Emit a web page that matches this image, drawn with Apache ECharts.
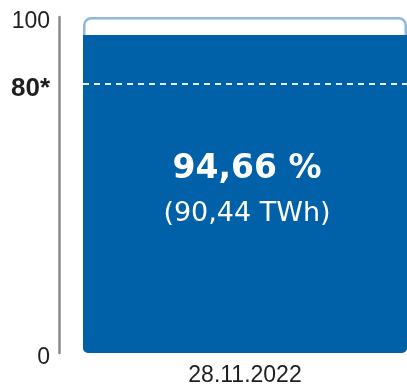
<!DOCTYPE html>
<html>
<head>
<meta charset="utf-8">
<script src="https://cdn.jsdelivr.net/npm/echarts@6/dist/echarts.min.js"></script>
<style>
  html, body { margin: 0; padding: 0; background: #ffffff; }
  #chart { width: 407px; height: 389px; }
</style>
</head>
<body>
<div id="chart"></div>
<script>
// Gas storage fill level on a single reporting day
const categories = ['28.11.2022'];
const fillPercent = [94.66];   // filling level in percent
const storedTWh = [90.44];     // stored energy in TWh
const capacity = [100];        // full storage = 100 %
const targetLevel = 80;        // statutory target level
const axisMin = 0;
const axisMax = 100;
const labelledTicks = [0, 80, 100];

const fmt = v => v.toFixed(2).replace('.', ',');

const chart = echarts.init(document.getElementById('chart'), null, { renderer: 'canvas' });

chart.setOption({
  animation: false,
  backgroundColor: '#ffffff',
  grid: { left: 83, right: 0, top: 17, bottom: 36, containLabel: false },
  xAxis: {
    type: 'category',
    data: categories,
    axisLine: { show: false },
    axisTick: { show: false },
    axisLabel: {
      fontFamily: 'Liberation Sans',
      fontSize: 23,
      color: '#1e1e1e',
      margin: 11
    }
  },
  yAxis: {
    type: 'value',
    min: axisMin,
    max: axisMax,
    interval: 20,
    offset: 24,
    axisLine: { show: true, lineStyle: { color: '#8a8a8a', width: 2.5 } },
    axisTick: { show: false },
    splitLine: { show: false },
    axisLabel: {
      margin: 9,
      padding: [10, 0, 0, 0],
      fontFamily: 'Liberation Sans',
      fontSize: 23,
      color: '#1e1e1e',
      formatter: v => {
        if (!labelledTicks.includes(v)) return '';
        return v === targetLevel ? '{b|' + v + '*}' : String(v);
      },
      rich: {
        b: { fontFamily: 'Liberation Sans', fontSize: 26, fontWeight: 'bold', color: '#1e1e1e' }
      }
    }
  },
  series: [
    {
      // storage capacity outline
      type: 'bar',
      data: capacity,
      barWidth: '100%',
      barGap: '-100%',
      silent: true,
      itemStyle: {
        color: '#ffffff',
        borderColor: '#8cb7df',
        borderWidth: 2.5,
        borderRadius: [7, 7, 5, 5]
      }
    },
    {
      // current filling level
      type: 'bar',
      data: fillPercent,
      barWidth: '100%',
      barGap: '-100%',
      silent: true,
      itemStyle: {
        color: '#0061a8',
        borderRadius: [0, 0, 5, 5]
      },
      label: {
        show: true,
        position: 'inside',
        offset: [2, -2],
        formatter: p => '{a|' + fmt(p.value) + ' %}\n{b|(' + fmt(storedTWh[p.dataIndex]) + ' TWh)}',
        rich: {
          a: { fontFamily: 'DejaVu Sans', fontWeight: 'bold', fontSize: 33, color: '#ffffff', lineHeight: 44, align: 'center' },
          b: { fontFamily: 'DejaVu Sans', fontSize: 27, color: '#ffffff', lineHeight: 45, align: 'center' }
        }
      },
      markLine: {
        silent: true,
        symbol: 'none',
        label: { show: false },
        lineStyle: { color: '#ffffff', width: 2, type: [6, 5], opacity: 0.9 },
        data: [{ yAxis: targetLevel }]
      }
    }
  ]
});
</script>
</body>
</html>
